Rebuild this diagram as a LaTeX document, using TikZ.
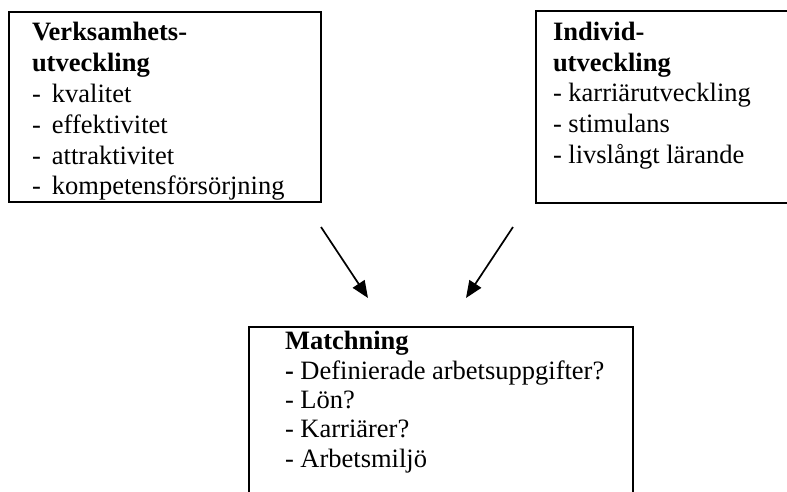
\documentclass[tikz,border=0pt]{standalone}
\usepackage{fontspec}
\setmainfont{Liberation Serif}
\usetikzlibrary{arrows.meta}
\tikzset{
  boxline/.style={draw=black, line width=2pt},
  txt/.style={anchor=base west, inner sep=0pt, outer sep=0pt, font=\fontsize{26.5}{30.5}\selectfont},
  arr/.style={line width=1.7pt, -{Triangle[length=17pt,width=14pt]}}
}
\begin{document}
\begin{tikzpicture}[x=1pt,y=1pt]
\useasboundingbox (0,0) rectangle (787,-491);
\begin{scope}
\clip (0,0) rectangle (787,-491);
% boxes
\draw[boxline] (9,-12) rectangle (321,-202);
\draw[boxline] (536,-11) rectangle (800,-203);
\draw[boxline] (249,-500) -- (249,-327) -- (633,-327) -- (633,-500);
\end{scope}
% left box text
\node[txt] (l1) at (32,-40) {\textbf{Verksamhets-}};
\node[txt] (l2) at (32,-71) {\textbf{utveckling}};
\node[txt] (l3) at (32,-102) {\makebox[20pt][l]{-}kvalitet};
\node[txt] (l4) at (32,-133) {\makebox[20pt][l]{-}effektivitet};
\node[txt] (l5) at (32,-164) {\makebox[20pt][l]{-}attraktivitet};
\node[txt] (l6) at (32,-194) {\makebox[20pt][l]{-}kompetensförsörjning};
% right box text
\node[txt] (r1) at (553,-40) {\textbf{Individ-}};
\node[txt] (r2) at (553,-71) {\textbf{utveckling}};
\node[txt] (r3) at (553,-101) {- karriärutveckling};
\node[txt] (r4) at (553,-132) {- stimulans};
\node[txt] (r5) at (553,-163) {- livslångt lärande};
% bottom box text
\node[txt] (b1) at (285,-349) {\textbf{Matchning}};
\node[txt] (b2) at (285,-379) {\textbf{-} Definierade arbetsuppgifter?};
\node[txt] (b3) at (285,-408) {- Lön?};
\node[txt] (b4) at (285,-437) {- Karriärer?};
\node[txt] (b5) at (285,-467) {- Arbetsmiljö};
% arrows
\coordinate (a1s) at (321,-227);
\coordinate (a1e) at (368,-298);
\coordinate (a2s) at (513,-227);
\coordinate (a2e) at (466,-298);
\draw[arr] (a1s) -- (a1e);
\draw[arr] (a2s) -- (a2e);
\end{tikzpicture}
\end{document}
